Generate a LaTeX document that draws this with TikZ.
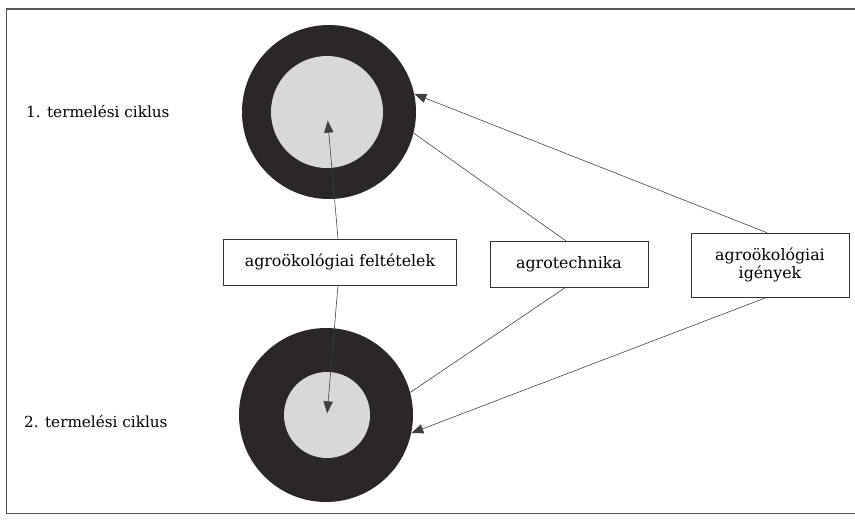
\documentclass[tikz,border=0pt]{standalone}
\usepackage{fontspec}
\setmainfont{DejaVu Serif}
\usepackage{tikz}
\usetikzlibrary{arrows.meta,positioning,shapes}
\definecolor{ringdark}{HTML}{2B2727}
\definecolor{corelight}{HTML}{D9D8D8}
\definecolor{framegray}{HTML}{555555}
\tikzset{
  ring/.style={circle, fill=ringdark, inner sep=0pt, minimum size=5.22cm},
  core/.style={circle, fill=corelight, inner sep=0pt},
  factor/.style={draw=black!80, line width=0.5pt, align=center, inner sep=2pt,
                 minimum height=1.38cm, font=\fontsize{13.5}{15.5}\selectfont},
  cycle/.style={anchor=west, font=\fontsize{13}{15}\selectfont},
  link/.style={draw=black!75, line width=0.5pt}
}
\begin{document}
\begin{tikzpicture}[x=0.03cm, y=-0.03cm, >={Triangle[length=0.36cm, width=0.28cm]}]
      \useasboundingbox (0, 0) rectangle (855, 519);
      % keret
      \draw[framegray, line width=1.4pt] (855, 9) -- (6, 9);
      \draw[framegray, line width=0.7pt] (6, 9) -- (6, 513) -- (855, 513);
      % a két termelési ciklus
      \node (c1) [ring] at (329, 112) {};
      \node (c1in) [core, minimum size=3.36cm] at (327, 112) {};
      \node (c2) [ring] at (326, 415) {};
      \node (c2in) [core, minimum size=2.58cm] at (327, 415) {};
      \draw (22, 112) node (first) [cycle] {1. termelési ciklus}
            (20, 422) node (second) [cycle] {2. termelési ciklus};
      % tényezők
      \node (feltet) [factor, minimum width=6.99cm] at (340, 262) {agroökológiai feltételek};
      \node (techn) [factor, minimum width=4.74cm] at (569, 264) {agrotechnika};
      \node (igeny) [factor, minimum width=4.74cm, minimum height=1.92cm] at (770, 265)
            {agroökológiai\\igények};
      \draw[link, ->, shorten >=0.26cm] ([xshift=-0.06cm]feltet.north) -- (c1in.center);
      \draw[link, ->, shorten >=0.05cm] ([xshift=-0.06cm]feltet.south) -- (c2in.center);
      \draw[link] ([xshift=-0.1cm]techn.north) -- (c1.-14)
                  ([xshift=-0.1cm]techn.south) -- (c2.15);
      \draw[link, ->] ([xshift=-0.09cm]igeny.north) -- (c1.12);
      \draw[link, ->] ([xshift=-0.09cm]igeny.south) -- (c2.-12);
\end{tikzpicture}
\end{document}
